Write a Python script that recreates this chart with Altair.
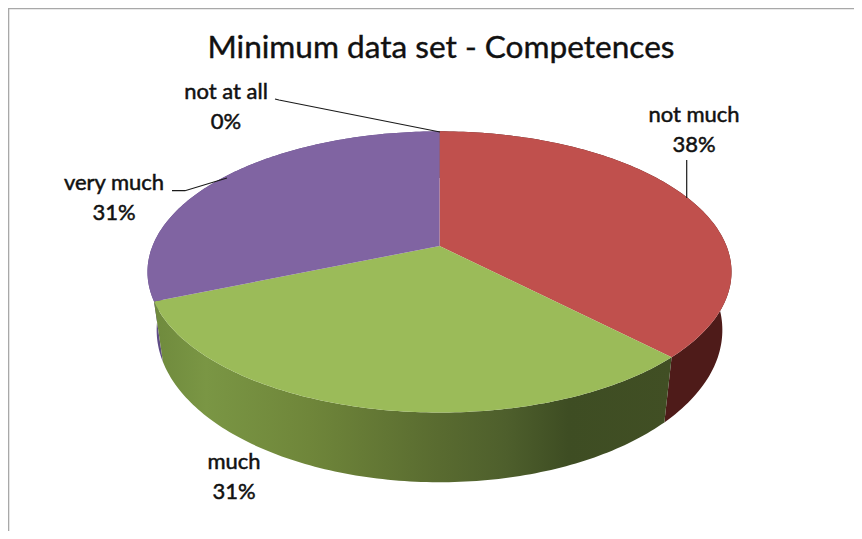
import math
import altair as alt

# ---- values ----
categories = ["not much", "much", "very much", "not at all"]
shares = [37.6, 31.2, 31.2, 0.0]
top_colors = ["#c0504d", "#9bbb59", "#8064a2", "#4bacc6"]
title_text = "Minimum data set - Competences"

# ---- tilted-disc view (page px minus the 8px margin) ----
CX, TOP_Y, BOTTOM_Y = 431.5, 238.0, 294.0
PERSP = 0.1844
TOP_RX, TOP_RY = 287.0, 135.8
BOT_RX, BOT_RY = 278.0, 147.0
STEPS = 120


def rim(turn, bottom=False):
    a = 2 * math.pi * turn
    u, v = math.sin(a), -math.cos(a)
    d = 1 - PERSP * v
    if bottom:
        return [CX + BOT_RX * u / d, BOTTOM_Y + BOT_RY * v / d]
    return [CX + TOP_RX * u / d, TOP_Y + TOP_RY * v / d]


def arc(t0, t1, bottom=False):
    return [rim(t0 + (t1 - t0) * i / STEPS, bottom) for i in range(STEPS + 1)]


def polygon(points):
    return {"type": "Polygon", "coordinates": [points + [points[0]]]}


def feature(geom, name):
    return {"type": "Feature", "geometry": geom, "properties": {"name": name}}


spans = []
acc = 0.0
total = sum(shares)
for s in shares:
    spans.append((acc / total, (acc + s) / total))
    acc += s

tops, walls = [], {}
for name, (t0, t1), s in zip(categories, spans, shares):
    if s <= 0:
        continue
    tops.append(feature(polygon([[CX, TOP_Y]] + arc(t0, t1)), name))
    walls[name] = feature(polygon(arc(t0, t1) + arc(t0, t1, True)[::-1]), name)

PROJ = dict(type="identity", scale=1, translate=[0, 0])


def wall(name, fill):
    return alt.Chart(alt.Data(values=[walls[name]])).mark_geoshape(
        fill=fill, strokeWidth=0
    ).project(**PROJ)


green_wall = alt.Gradient(
    gradient="linear", x1=0, x2=1, y1=0, y2=0,
    stops=[
        alt.GradientStop(color="#6f8a3d", offset=0.0),
        alt.GradientStop(color="#7a9644", offset=0.10),
        alt.GradientStop(color="#6f863a", offset=0.30),
        alt.GradientStop(color="#596b30", offset=0.55),
        alt.GradientStop(color="#4e5f2c", offset=0.68),
        alt.GradientStop(color="#3e4d23", offset=0.80),
        alt.GradientStop(color="#414f24", offset=1.0),
    ],
)

layers = [
    wall("very much", "#5f4c86"),
    wall("not much", "#4e1b19"),
    wall("much", green_wall),
    alt.Chart(alt.Data(values=tops)).mark_geoshape(strokeWidth=0)
    .encode(
        color=alt.Color(
            "properties.name:N",
            scale=alt.Scale(domain=categories, range=top_colors),
            legend=None,
        )
    )
    .project(**PROJ),
]

# leader lines and frame
leaders = [
    [[267, 91], [271, 92], [432, 124]],
    [[164, 182.7], [177, 182.7], [219, 170]],
    [[678.7, 152], [678.7, 190]],
]
frame = [[0.5, 523], [0.5, 0.5], [846, 0.5]]
line_features = [
    feature({"type": "LineString", "coordinates": c}, "leader") for c in leaders
]
layers.append(
    alt.Chart(alt.Data(values=line_features))
    .mark_geoshape(filled=False, stroke="#1a1a1a", strokeWidth=1.2)
    .project(**PROJ)
)
layers.append(
    alt.Chart(alt.Data(values=[feature({"type": "LineString", "coordinates": frame}, "frame")]))
    .mark_geoshape(filled=False, stroke="#a8a8a8", strokeWidth=1.6)
    .project(**PROJ)
)

# labels: name on top, percentage beneath
label_pos = {
    "not much": (686, 114),
    "much": (226, 461),
    "very much": (106, 182),
    "not at all": (218, 91),
}
label_rows = []
for name, s in zip(categories, shares):
    x, y = label_pos[name]
    label_rows.append({"text": name, "lon": x, "lat": y})
    label_rows.append({"text": f"{round(s)}%", "lon": x, "lat": y + 30})

layers.append(
    alt.Chart(alt.Data(values=label_rows))
    .mark_text(font="Lato", fontSize=22, color="#111111", stroke="#111111", strokeWidth=0.5,
               align="center", baseline="alphabetic")
    .encode(longitude="lon:Q", latitude="lat:Q", text="text:N")
    .project(**PROJ)
)
layers.append(
    alt.Chart(alt.Data(values=[{"text": title_text, "lon": 433, "lat": 50}]))
    .mark_text(font="Lato", fontSize=31.6, color="#111111", stroke="#111111", strokeWidth=0.4,
               align="center", baseline="alphabetic")
    .encode(longitude="lon:Q", latitude="lat:Q", text="text:N")
    .project(**PROJ)
)

chart = (
    alt.layer(*layers)
    .properties(width=846, height=523, padding=0, background="white")
    .configure_view(stroke=None)
)
chart.save("out.html", embed_options={"renderer": "svg", "actions": False})
